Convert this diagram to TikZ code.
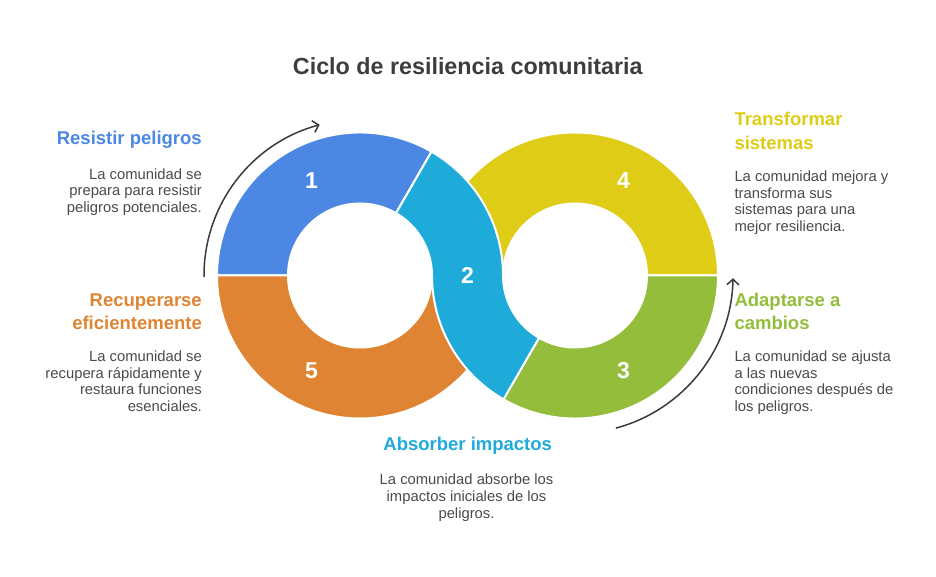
\documentclass[tikz,border=0pt]{standalone}
\usepackage{fontspec}
\setmainfont{Liberation Sans}
\usetikzlibrary{arrows.meta,calc}
\definecolor{cblue}{HTML}{4C88E3}
\definecolor{ccyan}{HTML}{1FABD9}
\definecolor{cyellow}{HTML}{DFCC17}
\definecolor{cgreen}{HTML}{93BD3A}
\definecolor{corange}{HTML}{DF8432}
\definecolor{txtgray}{HTML}{4A4A4A}
\definecolor{titlegray}{HTML}{3D3D3D}
\definecolor{arrowgray}{HTML}{3A3A3A}
\tikzset{
  seg/.style={draw=white, line width=2pt, line join=round},
  num/.style={text=white, font=\fontsize{23}{26}\selectfont\bfseries, inner sep=0},
  head/.style={font=\fontsize{18.5}{22}\selectfont\bfseries, inner sep=0},
  desc/.style={font=\fontsize{14.8}{17}\selectfont, text=txtgray, inner sep=0},
  cyc/.style={draw=arrowgray, line width=1.5pt, -{Straight Barb[length=5.5pt,width=12pt,line width=1.5pt]}}
}
\begin{document}
\begin{tikzpicture}[x=1pt,y=1pt]
\useasboundingbox (0,0) rectangle (936,577);
\coordinate (L) at (360,301.5);
\coordinate (R) at (575,301.5);
% segments
\begin{scope}[shift={(L)}]
  \fill[cblue,seg] (60:143) arc[start angle=60,end angle=180,radius=143] -- (180:72) arc[start angle=180,end angle=60,radius=72] -- cycle;
  \fill[corange,seg] (180:143) arc[start angle=180,end angle=360,radius=143] -- (0:72) arc[start angle=360,end angle=180,radius=72] -- cycle;
\end{scope}
\begin{scope}[shift={(R)}]
  \fill[cyellow,seg] (0:143) arc[start angle=0,end angle=180,radius=143] -- (180:72) arc[start angle=180,end angle=0,radius=72] -- cycle;
  \fill[cgreen,seg] (240:143) arc[start angle=240,end angle=360,radius=143] -- (0:72) arc[start angle=360,end angle=240,radius=72] -- cycle;
\end{scope}
\begin{scope}[shift={(L)}]
  \fill[ccyan,seg] (60:143) arc[start angle=60,end angle=0,radius=143]
    arc[start angle=180,end angle=240,radius=72]
    -- ++(240:71)
    arc[start angle=240,end angle=180,radius=143]
    arc[start angle=0,end angle=60,radius=72] -- cycle;
\end{scope}
% numbers
\node[num] (n1) at ($(L)+(117:107)$) {1};
\node[num] (n5) at ($(L)+(-117:107)$) {5};
\node[num] (n4) at ($(R)+(63:107)$) {4};
\node[num] (n3) at ($(R)+(-63:107)$) {3};
\node[num] (n2) at (467.5,301.5) {2};
% cycle arrows
\coordinate (a1s) at ($(L)+(180.5:156)$);
\coordinate (a2s) at ($(R)+(-75:158)$);
\draw[cyc] (a1s) arc[start angle=180.5,end angle=105,radius=156];
\draw[cyc] (a2s) arc[start angle=-75,end angle=-1,radius=158];
% title
\node[font=\fontsize{23.3}{27}\selectfont\bfseries, text=titlegray, anchor=base, inner sep=0] (title) at (467.8,502) {Ciclo de resiliencia comunitaria};
% Resistir
\node[head, text=cblue, anchor=base east] (h1) at (202,432.7) {Resistir peligros};
\node[desc, anchor=base east] (d1a) at (202,397.7) {La comunidad se};
\node[desc, anchor=base east] (d1b) at (202,381) {prepara para resistir};
\node[desc, anchor=base east] (d1c) at (202,364.3) {peligros potenciales.};
% Recuperarse
\node[head, text=corange, anchor=base east] (h5a) at (202,270.3) {Recuperarse};
\node[head, text=corange, anchor=base east] (h5b) at (202,247) {eficientemente};
\node[desc, anchor=base east] (d5a) at (202,215.3) {La comunidad se};
\node[desc, anchor=base east] (d5b) at (202,198.7) {recupera rápidamente y};
\node[desc, anchor=base east] (d5c) at (202,182) {restaura funciones};
\node[desc, anchor=base east] (d5d) at (202,165.3) {esenciales.};
% Transformar
\node[head, text=cyellow, anchor=base west] (h4a) at (734.3,451) {Transformar};
\node[head, text=cyellow, anchor=base west] (h4b) at (734.3,427) {sistemas};
\node[desc, anchor=base west] (d4a) at (734.3,395.3) {La comunidad mejora y};
\node[desc, anchor=base west] (d4b) at (734.3,378.7) {transforma sus};
\node[desc, anchor=base west] (d4c) at (734.3,362) {sistemas para una};
\node[desc, anchor=base west] (d4d) at (734.3,345.3) {mejor resiliencia.};
% Adaptarse
\node[head, text=cgreen, anchor=base west] (h3a) at (734.3,270.3) {Adaptarse a};
\node[head, text=cgreen, anchor=base west] (h3b) at (734.3,247) {cambios};
\node[desc, anchor=base west] (d3a) at (734.3,215.3) {La comunidad se ajusta};
\node[desc, anchor=base west] (d3b) at (734.3,198.7) {a las nuevas};
\node[desc, anchor=base west] (d3c) at (734.3,182) {condiciones después de};
\node[desc, anchor=base west] (d3d) at (734.3,165.3) {los peligros.};
% Absorber
\node[head, text=ccyan, anchor=base] (h2) at (467.7,126.3) {Absorber impactos};
\node[desc, anchor=base] (d2a) at (466.5,92) {La comunidad absorbe los};
\node[desc, anchor=base] (d2b) at (466.5,75.3) {impactos iniciales de los};
\node[desc, anchor=base] (d2c) at (466.5,58.7) {peligros.};
\end{tikzpicture}
\end{document}
